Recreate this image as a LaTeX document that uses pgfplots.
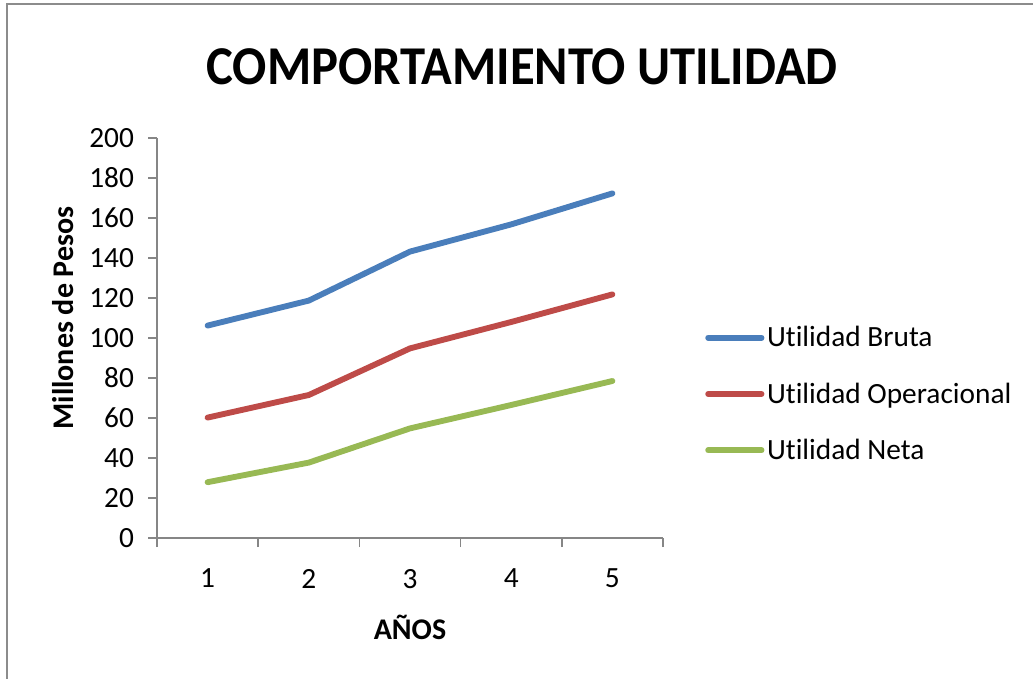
\documentclass[border=0pt]{standalone}
\usepackage{fontspec}
\setmainfont{Carlito}[Ligatures=NoCommon]
\usepackage{pgfplots}
\pgfplotsset{compat=1.18}
\definecolor{cblue}{HTML}{4A7EBB}
\definecolor{cred}{HTML}{BE4B48}
\definecolor{cgreen}{HTML}{98B954}
\definecolor{axgray}{HTML}{868686}
\definecolor{framegray}{HTML}{8C8C8C}
\begin{document}
\begin{tikzpicture}[x=0.75pt,y=0.75pt]
\useasboundingbox (0,0) rectangle (1033,679);
\draw[color=framegray, line width=1.5pt] (7,-10) -- (7,675) -- (1045,675);
\node[font=\bfseries\fontsize{38}{40}\selectfont] at (522,612) {\scalebox{1}[1.08]{COMPORTAMIENTO UTILIDAD}};
\coordinate (O) at (157,141);
\begin{axis}[
  at={(O)}, anchor=south west,
  scale only axis, width=379.5pt, height=300pt,
  xmin=0.5, xmax=5.5, ymin=0, ymax=200,
  axis x line=bottom, axis y line=left,
  axis line style={-, draw=axgray, line width=1.1pt},
  tick style={draw=axgray, line width=1.1pt},
  tick align=outside, major tick length=6.75pt,
  xtick={0.5,1.5,2.5,3.5,4.5,5.5},
  xticklabels={1,2,3,4,5,},
  xticklabel style={xshift=37.95pt, yshift=-13pt},
  ytick={0,20,40,60,80,100,120,140,160,180,200},
  yticklabel style={xshift=-7pt},
  /pgf/number format/assume math mode=true,
  tick label style={font=\fontsize{22}{26}\selectfont, text=black},
  xlabel={AÑOS}, ylabel={Millones de Pesos},
  label style={font=\bfseries\fontsize{22.5}{26}\selectfont},
  x label style={at={(axis description cs:0.5,-0.2225)}, anchor=center},
  y label style={at={(axis description cs:-0.186,0.55)}, anchor=center},
  legend style={draw=none, fill=none, at={(1.083,0.36)}, anchor=west,
    font=\fontsize{22}{26}\selectfont, row sep=21.5pt, inner sep=0pt},
  legend cell align=left,
  legend image code/.code={\draw[#1, line cap=round] (0pt,0pt) -- (40pt,0pt);},
]
\addplot[color=cblue, line width=4.4pt, line cap=round, line join=round] coordinates {(1,106.2) (2,118.7) (3,143.2) (4,156.8) (5,172.3)};
\addlegendentry{Utilidad Bruta}
\addplot[color=cred, line width=4.4pt, line cap=round, line join=round] coordinates {(1,60.2) (2,71.5) (3,94.8) (4,108.0) (5,121.8)};
\addlegendentry{Utilidad Operacional}
\addplot[color=cgreen, line width=4.4pt, line cap=round, line join=round] coordinates {(1,27.9) (2,37.7) (3,54.8) (4,66.5) (5,78.5)};
\addlegendentry{Utilidad Neta}
\end{axis}
\end{tikzpicture}
\end{document}
